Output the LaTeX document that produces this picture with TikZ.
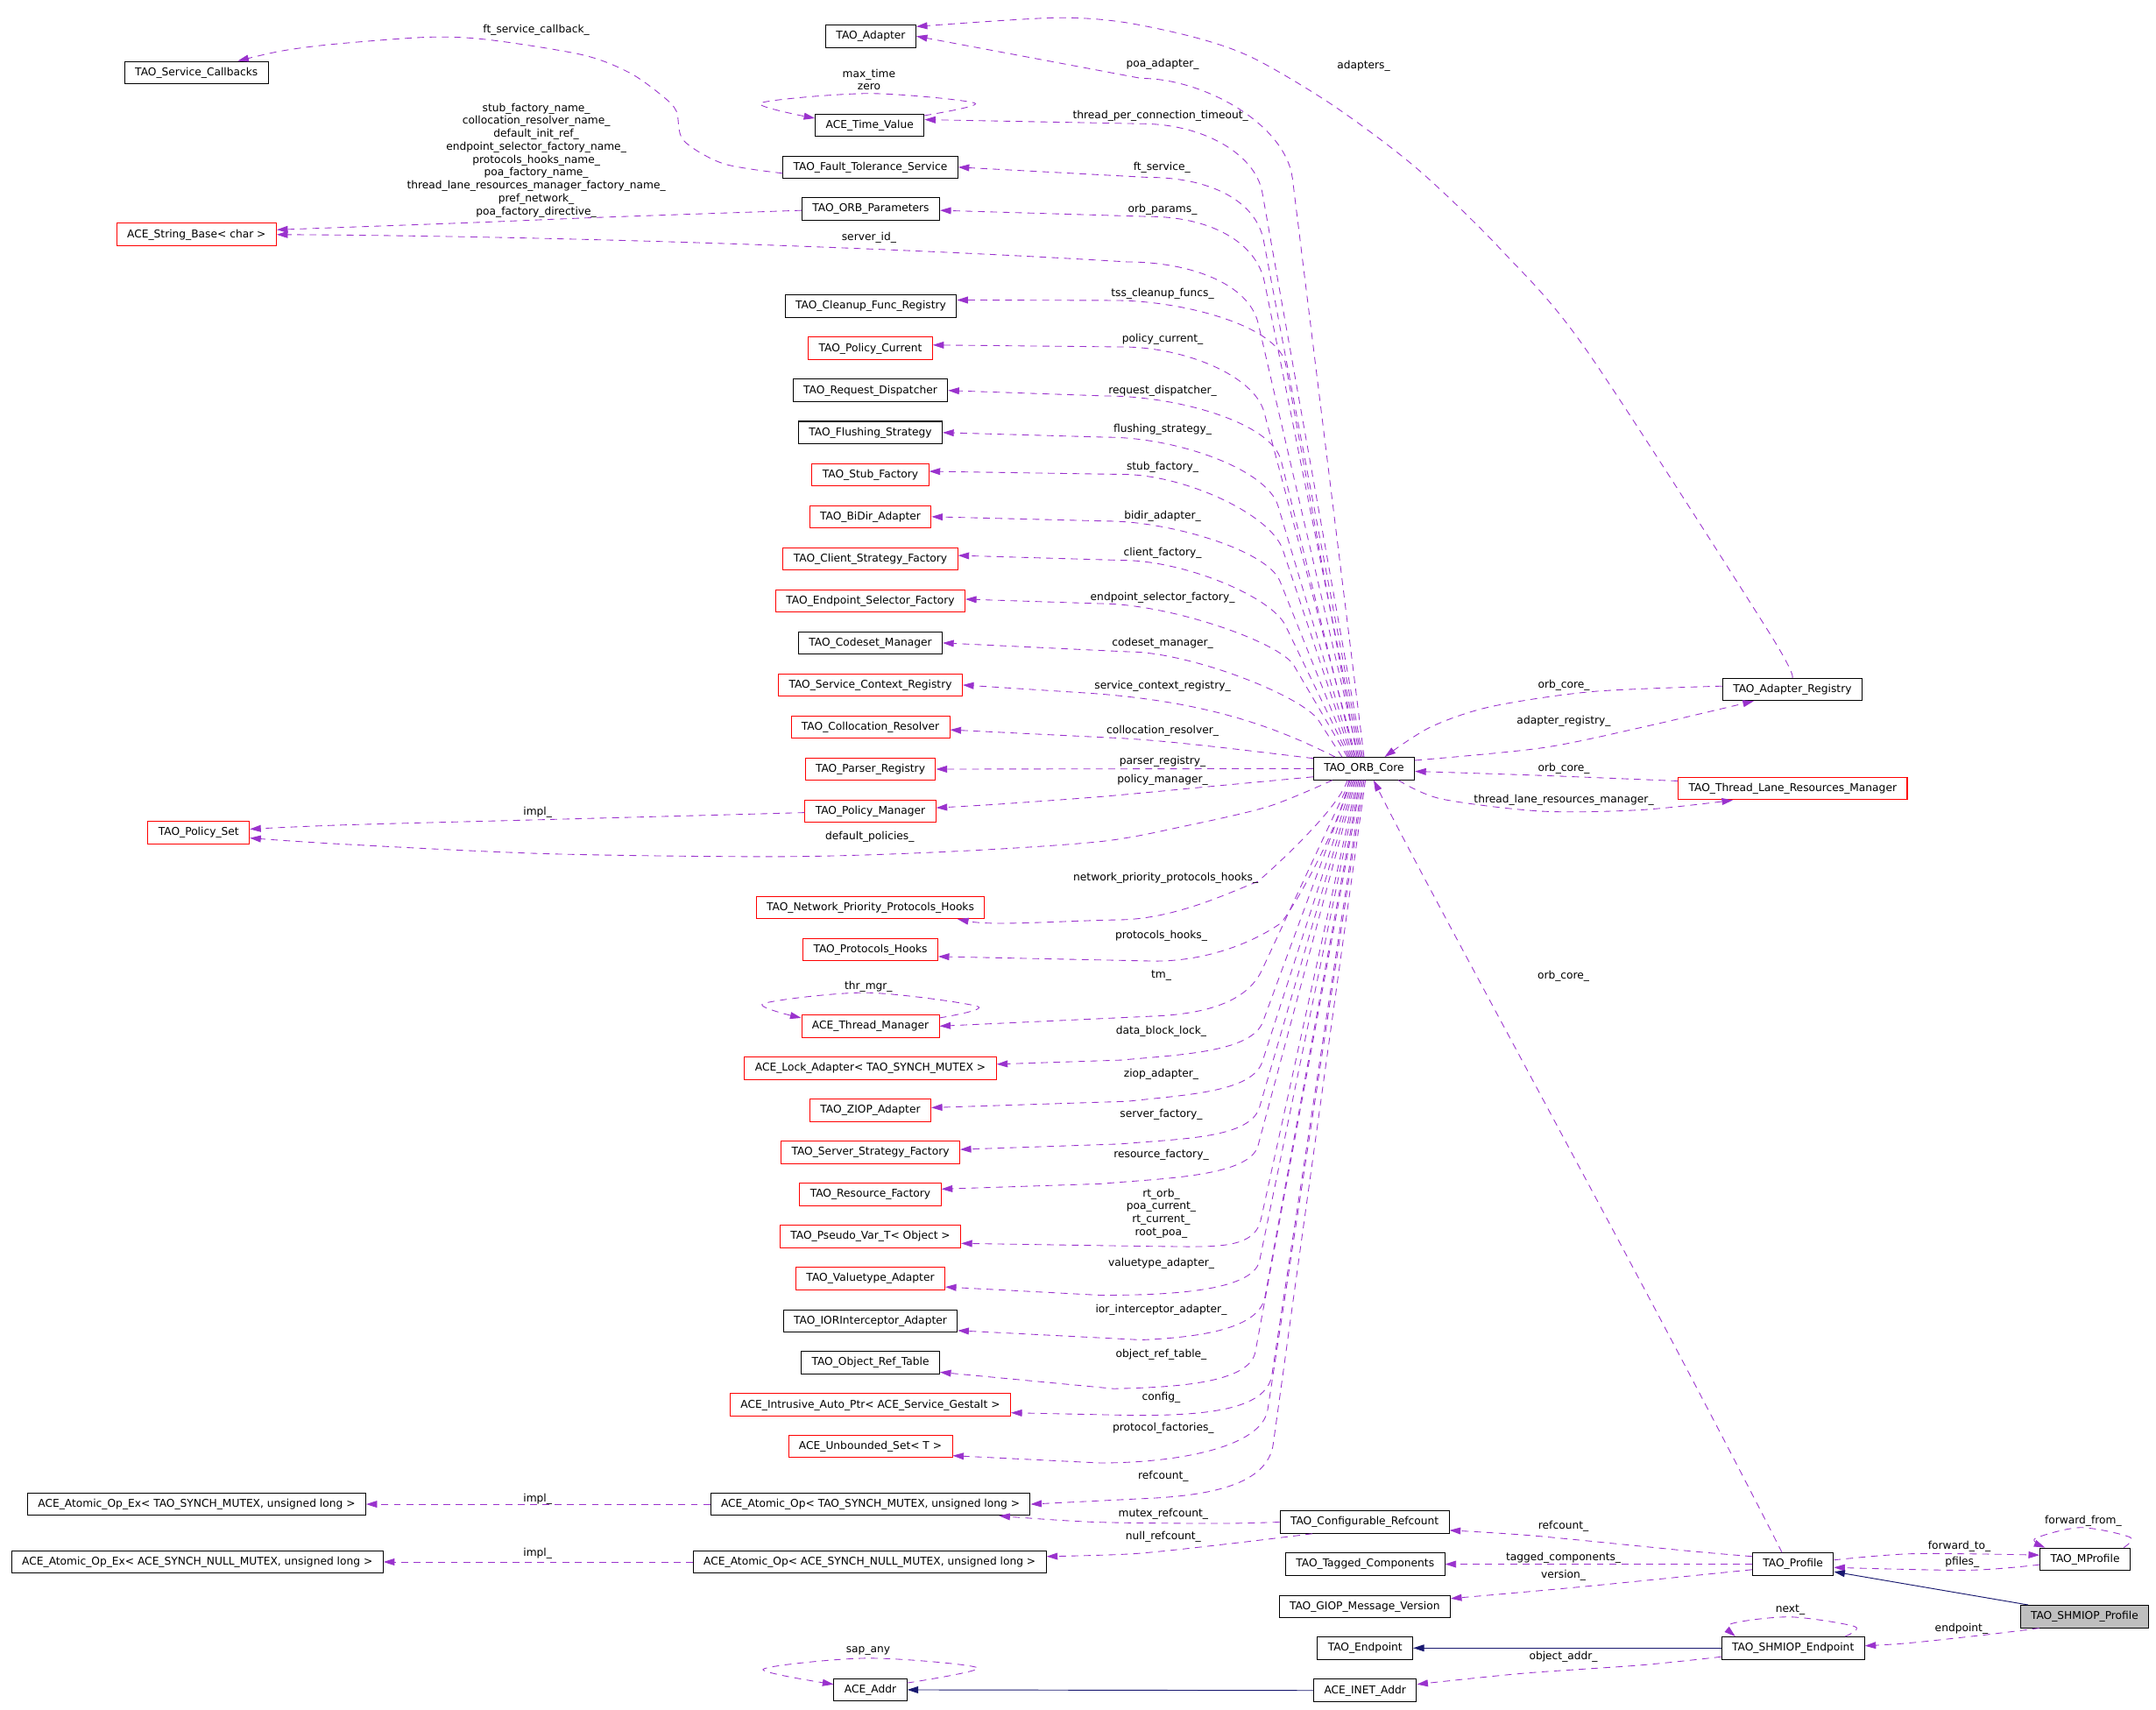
\documentclass[tikz,border=0pt]{standalone}
\usepackage{fontspec}
\setmainfont{DejaVu Sans}
\usetikzlibrary{arrows.meta,calc}
\definecolor{orchid}{HTML}{9A32CD}
\definecolor{navyb}{HTML}{191970}
\definecolor{greyf}{HTML}{BFBFBF}
\newcommand\lblfont{\fontsize{7.8pt}{9.4pt}\selectfont}
\newcommand\mline[1]{\draw[mem] plot[smooth] coordinates {#1};}
% fan connector: start, bend start, control at bend, control at flat end, flat end, target
\newcommand\fanline[6]{\draw[mem] (#1) -- (#2) .. controls +(#3) and +(#4) .. (#5) -- (#6);}
\begin{document}
\begin{tikzpicture}[x=1pt,y=-1pt,
  cls/.style={draw=black, line width=0.65pt, fill=white, font=\lblfont, minimum height=16.3pt, inner xsep=7.6pt, inner ysep=0pt, text height=6pt, text depth=1.8pt},
  redcls/.style={cls, draw=red},
  cur/.style={cls, fill=greyf},
  mem/.style={draw=orchid, line width=0.55pt, dash pattern=on 5pt off 4pt, -{Triangle[length=8pt,width=5pt,fill=orchid]}},
  inh/.style={draw=navyb, line width=0.6pt, -{Triangle[length=8pt,width=5pt,fill=navyb]}},
  lbl/.style={font=\lblfont, inner sep=0pt, align=center}]
\fill[white] (0,0) rectangle (1568,1243.1);
\useasboundingbox (0,0) rectangle (1568,1243.1);

% ---------- classes ----------
\node[cls] (SC) at (142.9,52.8) {TAO\_Service\_Callbacks};
\node[cls] (AD) at (633.3,26.3) {TAO\_Adapter};
\node[cls] (TV) at (632.5,91) {ACE\_Time\_Value};
\node[cls] (FT) at (633,121.6) {TAO\_Fault\_Tolerance\_Service};
\node[cls] (OP) at (633.3,152) {TAO\_ORB\_Parameters};
\node[redcls] (SB) at (142.9,170.6) {ACE\_String\_Base< char >};
\node[cls] (CFR) at (633.3,222.8) {TAO\_Cleanup\_Func\_Registry};
\node[redcls] (PC) at (633,253.4) {TAO\_Policy\_Current};
\node[cls] (RD) at (633,284) {TAO\_Request\_Dispatcher};
\node[cls] (FS) at (633,314.6) {TAO\_Flushing\_Strategy};
\node[redcls] (STF) at (633,345.2) {TAO\_Stub\_Factory};
\node[redcls] (BD) at (633,375.8) {TAO\_BiDir\_Adapter};
\node[redcls] (CSF) at (633,406.4) {TAO\_Client\_Strategy\_Factory};
\node[redcls] (ESF) at (633,437) {TAO\_Endpoint\_Selector\_Factory};
\node[cls] (CM) at (633,467.6) {TAO\_Codeset\_Manager};
\node[redcls] (SCR) at (633,498.2) {TAO\_Service\_Context\_Registry};
\node[redcls] (COL) at (633,528.8) {TAO\_Collocation\_Resolver};
\node[redcls] (PAR) at (633,559.4) {TAO\_Parser\_Registry};
\node[redcls] (PM) at (633,590) {TAO\_Policy\_Manager};
\node[redcls] (PS) at (144.5,605.5) {TAO\_Policy\_Set};
\node[redcls] (NPH) at (633,660) {TAO\_Network\_Priority\_Protocols\_Hooks};
\node[redcls] (PH) at (633,690.7) {TAO\_Protocols\_Hooks};
\node[redcls] (TM) at (633,746.3) {ACE\_Thread\_Manager};
\node[redcls] (LA) at (633,777) {ACE\_Lock\_Adapter< TAO\_SYNCH\_MUTEX >};
\node[redcls] (ZA) at (633,807.6) {TAO\_ZIOP\_Adapter};
\node[redcls] (SSF) at (633,838) {TAO\_Server\_Strategy\_Factory};
\node[redcls] (RF) at (633,868.8) {TAO\_Resource\_Factory};
\node[redcls] (PV) at (633,899.3) {TAO\_Pseudo\_Var\_T< Object >};
\node[redcls] (VA) at (633,930) {TAO\_Valuetype\_Adapter};
\node[cls] (IORA) at (633,960.7) {TAO\_IORInterceptor\_Adapter};
\node[cls] (ORT) at (633,991) {TAO\_Object\_Ref\_Table};
\node[redcls] (IAP) at (633,1021.8) {ACE\_Intrusive\_Auto\_Ptr< ACE\_Service\_Gestalt >};
\node[redcls] (US) at (633,1052) {ACE\_Unbounded\_Set< T >};
\node[cls] (AT) at (633,1094) {ACE\_Atomic\_Op< TAO\_SYNCH\_MUTEX, unsigned long >};
\node[cls] (AX) at (143,1094) {ACE\_Atomic\_Op\_Ex< TAO\_SYNCH\_MUTEX, unsigned long >};
\node[cls] (AN) at (632.5,1136) {ACE\_Atomic\_Op< ACE\_SYNCH\_NULL\_MUTEX, unsigned long >};
\node[cls] (ANX) at (143.5,1136) {ACE\_Atomic\_Op\_Ex< ACE\_SYNCH\_NULL\_MUTEX, unsigned long >};
\node[cls] (ORB) at (992,559) {TAO\_ORB\_Core};
\node[cls] (AR) at (1303.5,501.4) {TAO\_Adapter\_Registry};
\node[redcls] (TL) at (1303.8,573.5) {TAO\_Thread\_Lane\_Resources\_Manager};
\node[cls] (CR) at (992.4,1107) {TAO\_Configurable\_Refcount};
\node[cls] (TC) at (992.8,1137.6) {TAO\_Tagged\_Components};
\node[cls] (GMV) at (992.5,1168.6) {TAO\_GIOP\_Message\_Version};
\node[cls] (TE) at (992.8,1198.6) {TAO\_Endpoint};
\node[cls] (INET) at (992.8,1229.5) {ACE\_INET\_Addr};
\node[cls] (ADDR) at (633,1229) {ACE\_Addr};
\node[cls] (PR) at (1304,1137.6) {TAO\_Profile};
\node[cls] (MP) at (1516.4,1134) {TAO\_MProfile};
\node[cur] (SP) at (1516,1175.7) {TAO\_SHMIOP\_Profile};
\node[cls] (SE) at (1304,1198.6) {TAO\_SHMIOP\_Endpoint};

% ---------- connector end points ----------
\foreach \i in {0,...,21} {\coordinate (u\i) at ($(ORB.north)+(-\i,0)$);}
\foreach \i in {0,...,12} {\coordinate (d\i) at ($(ORB.south)+(-\i,0)$);}
\coordinate (dR) at ($(ORB.south)+(1,0)$);
\coordinate (tAD2) at ($(AD.east)+(0,-7)$);
\coordinate (tTV) at ($(TV.east)+(0,-4)$);
\coordinate (tOP) at ($(OP.east)+(0,1)$);
\coordinate (tCFR) at ($(CFR.east)+(0,-4.6)$);
\coordinate (tPC) at ($(PC.east)+(0,-2.5)$);
\coordinate (tSTF) at ($(STF.east)+(0,-2.4)$);
\coordinate (tCSF) at ($(CSF.east)+(0,-2.4)$);
\coordinate (tESF) at ($(ESF.east)+(0,-1.2)$);
\coordinate (sCOL) at ($(ORB.north west)+(0,1)$);
\coordinate (tCOL) at ($(COL.east)+(0,2)$);
\coordinate (sPM) at ($(ORB.west)+(0,6)$);
\coordinate (tPM) at ($(PM.east)+(0,-2.5)$);
\coordinate (sDP) at ($(ORB.south west)+(14,0)$);
\coordinate (tPSa) at ($(PS.east)+(0,4)$);
\coordinate (sPMi) at ($(PM.west)+(0,1)$);
\coordinate (tPSb) at ($(PS.east)+(0,-2.5)$);
\coordinate (tNPH) at ($(NPH.south east)+(-20,0)$);
\coordinate (tPH) at ($(PH.east)+(0,5)$);
\coordinate (tLA) at ($(LA.east)+(0,-3)$);
\coordinate (tZA) at ($(ZA.east)+(0,-2)$);
\coordinate (tSSF) at ($(SSF.east)+(0,-2)$);
\coordinate (tRF) at ($(RF.east)+(0,-4)$);
\coordinate (tPV) at ($(PV.east)+(0,5)$);
\coordinate (tVA) at ($(VA.east)+(0,6)$);
\coordinate (tIORA) at ($(IORA.east)+(0,7)$);
\coordinate (tORT) at ($(ORT.east)+(0,7)$);
\coordinate (tIAP) at ($(IAP.east)+(0,5.7)$);
\coordinate (tUS) at ($(US.east)+(0,6.7)$);
\coordinate (sTVl) at ($(TV.east)+(0,-7)$);
\coordinate (tTVl) at ($(TV.west)+(0,-5)$);
\coordinate (sTMl) at ($(TM.east)+(0,-6)$);
\coordinate (tTMl) at ($(TM.west)+(0,-6)$);
\coordinate (sADl) at ($(ADDR.east)+(0,-5)$);
\coordinate (tADl) at ($(ADDR.west)+(0,-4)$);
\coordinate (sFT) at ($(FT.west)+(0,4.4)$);
\coordinate (tSC) at ($(SC.north)+(30,0)$);
\coordinate (sOP) at ($(OP.west)+(0,1)$);
\coordinate (tSBb) at ($(SB.east)+(0,-3.5)$);
\coordinate (sARo) at ($(AR.west)+(0,-2.4)$);
\coordinate (tORBa) at ($(ORB.north)+(15,0)$);
\coordinate (sORBr) at ($(ORB.east)+(0,-6)$);
\coordinate (tAR) at ($(AR.south)+(-28,0)$);
\coordinate (sTL) at ($(TL.west)+(0,-5.5)$);
\coordinate (tORBr) at ($(ORB.east)+(0,2)$);
\coordinate (sORBt) at ($(ORB.south)+(25,0)$);
\coordinate (tTL) at ($(TL.south west)+(40,0)$);
\coordinate (sPRo) at ($(PR.north)+(-8,0)$);
\coordinate (tORBb) at ($(ORB.south)+(7,0)$);
\coordinate (sPRc) at ($(PR.west)+(0,-5.6)$);
\coordinate (tCR) at ($(CR.east)+(0,6)$);
\coordinate (sPRv) at ($(PR.west)+(0,4)$);
\coordinate (tGMV) at ($(GMV.east)+(0,-6)$);
\coordinate (sPRf) at ($(PR.east)+(0,-3)$);
\coordinate (tMP) at ($(MP.west)+(0,-3)$);
\coordinate (sMP) at ($(MP.west)+(0,4)$);
\coordinate (tPRp) at ($(PR.east)+(0,2.4)$);
\coordinate (sMPl) at ($(MP.north east)+(-5,0)$);
\coordinate (tMPl) at ($(MP.north west)+(4,0)$);
\coordinate (sSPi) at ($(SP.north west)+(6,0)$);
\coordinate (tPRi) at ($(PR.east)+(0,5.5)$);
\coordinate (sSPe) at ($(SP.south west)+(14,0)$);
\coordinate (tSE) at ($(SE.east)+(0,-1.6)$);
\coordinate (sSEl) at ($(SE.north)+(38,0)$);
\coordinate (tSEl) at ($(SE.north)+(-42,0)$);
\coordinate (sSEa) at ($(SE.west)+(0,6.4)$);
\coordinate (tINET) at ($(INET.east)+(0,-4.5)$);
\coordinate (tATm) at ($(AT.south east)+(-23,0)$);
\coordinate (sCRn) at ($(CR.south)+(-38,0)$);
\coordinate (tAN) at ($(AN.east)+(0,-4)$);

% ---------- TAO_ORB_Core members above ----------
\fanline{u0}{940,130}{-5,-40}{45,0}{830,57}{AD.east}
\fanline{u1}{918,140}{-5,-28}{45,0}{830,90}{tTV}
\fanline{u2}{919,175}{-5.5,-29}{45,0}{835,129}{FT.east}
\fanline{u3}{919.6,205}{-6,-29}{45,0}{835,157.5}{tOP}
\draw[mem] (u4) -- (915,235) .. controls +(-7,-29) and +(45,0) .. (820,190.5) .. controls (700,183) and (450,172) .. (SB.east);
\fanline{u5}{935,265}{-5,-28}{50,0}{810,218.5}{tCFR}
\fanline{u6}{919.4,300}{-7,-27}{45,0}{816,252.3}{tPC}
\fanline{u7}{931.7,335}{-7,-28}{50,0}{805,288}{RD.east}
\fanline{u8}{929.5,368}{-8,-27}{50,0}{805,318}{FS.east}
\fanline{u9}{933,400}{-8.5,-26}{45,0}{816,345}{tSTF}
\fanline{u10}{931,423}{-9,-23}{45,0}{805,379}{BD.east}
\fanline{u11}{934.9,455}{-10,-21}{45,0}{816,407.5}{tCSF}
\fanline{u12}{941,484}{-10,-17}{50,0}{800,439}{tESF}
\fanline{u16}{959,524}{-12,-18}{45,0}{820,474}{CM.east}
\draw[mem] (u21) .. controls (930,530) and (880,510) .. (790,504) -- (SCR.east);
\draw[mem] (sCOL) .. controls (900,545) and (845,538) .. (806.7,536.5) -- (tCOL);
\draw[mem] (ORB.west) -- (PAR.east);
\mline{(sPM) (877,572.3) (800.7,579.4) (724.4,585) (tPM)}
\mline{(sDP) (922.6,586.5) (861.7,600.8) (800.7,612) (693.9,619.2) (572,623) (400,621) (250,614) (tPSa)}
\mline{(sPMi) (541.6,592.2) (400,596) (250,600) (tPSb)}

% ---------- TAO_ORB_Core members below ----------
\draw[mem] (d12) .. controls +(-6,18) and +(25,-22) .. (915,641) .. controls +(-25,10) and +(40,0) .. (812,669) .. controls +(-45,1) and +(25,5) .. (tNPH);
\draw[mem] (d11) .. controls +(-4,25) and +(18,-25) .. (932,671) .. controls +(-18,13) and +(40,0) .. (840,699) -- (tPH);
\fanline{d10}{918,705}{-9,20}{45,-2}{840,739}{TM.east}
\fanline{d9}{918.5,743}{-8,22}{45,-4}{815,771}{tLA}
\fanline{d8}{918.1,772}{-7,22}{45,-5}{820,801}{tZA}
\fanline{d7}{916.1,805}{-6.5,23}{45,-4}{815,832}{tSSF}
\fanline{d6}{915,833}{-6,23}{45,-4}{800,861}{tRF}
\fanline{d5}{917,887}{-5,23}{40,0}{840,906.5}{tPV}
\fanline{d4}{916,917}{-5,23}{45,0}{800,942}{tVA}
\fanline{d3}{920,943}{-4,23}{45,-2}{830,974.5}{tIORA}
\fanline{d2}{913,983}{-4,23}{45,-1}{810,1010}{tORT}
\fanline{d1}{925,1000}{-4,26}{50,0}{825,1029.4}{tIAP}
\fanline{d0}{922,1025}{-4,28}{55,0}{800,1064}{tUS}
\fanline{dR}{926,1050}{-4,30}{50,-2}{830,1090}{AT.east}

% ---------- other members ----------
\mline{(AR.north) (1286,459) (1154,255) (1093,183) (1031,123) (970,77) (913,43) (872,28) (816,16) (765,13) (tAD2)}
\mline{(sTVl) (709,75) (632,68) (553,75) (tTVl)}
\mline{(sTMl) (711,732) (630,722) (555,730) (tTMl)}
\mline{(sADl) (711,1213) (631,1206) (555,1214) (tADl)}
\mline{(sFT) (526,119) (497,102) (492,81) (482,70) (458,53) (424,40) (356,29) (312,27) (244,32) (205,37) (tSC)}
\mline{(sOP) (439,158) (341,162) (tSBb)}
\mline{(sARo) (1158,503) (1084,514) (1040,529) (tORBa)}
\mline{(sORBr) (1121,544) (1194,529) (tAR)}
\mline{(sTL) (1121,564) (tORBr)}
\mline{(sORBt) (1048,581) (1121,590) (1194,589) (tTL)}
\draw[mem] (sPRo) .. controls (1200,940) and (1040,650) .. (tORBb);
\mline{(sPRc) (1228,1128) (1116,1117) (tCR)}
\draw[mem] (PR.west) -- (TC.east);
\mline{(sPRv) (1151,1154) (tGMV)}
\mline{(sPRf) (1392,1130) (tMP)}
\mline{(sMP) (1431,1142) (tPRp)}
\mline{(sMPl) (1549,1118) (1513,1111) (1480,1119) (tMPl)}
\mline{(sSPe) (1444,1189) (1388,1195) (tSE)}
\mline{(sSEl) (1349,1183) (1302,1176) (1259,1181) (tSEl)}
\mline{(sSEa) (1194,1211) (1108,1217) (tINET)}
\mline{(CR.west) (887,1108) (796,1107) (tATm)}
\mline{(sCRn) (892,1123) (825,1130) (tAN)}
\draw[mem] (AT.west) -- (AX.east);
\draw[mem] (AN.west) -- (ANX.east);

% ---------- inheritance ----------
\draw[inh] (sSPi) -- (tPRi);
\draw[inh] (SE.west) -- (TE.east);
\draw[inh] (INET.west) -- (ADDR.east);

% ---------- labels ----------
\node[lbl] (L1) at (390,22) {ft\_service\_callback\_};
\node[lbl] (L2) at (390,116.5) {stub\_factory\_name\_\\collocation\_resolver\_name\_\\default\_init\_ref\_\\endpoint\_selector\_factory\_name\_\\protocols\_hooks\_name\_\\poa\_factory\_name\_\\thread\_lane\_resources\_manager\_factory\_name\_\\pref\_network\_\\poa\_factory\_directive\_};
\node[lbl] (L3) at (632,58) {max\_time\\zero};
\node[lbl] (L4) at (632,173) {server\_id\_};
\node[lbl] (L5) at (845.5,47) {poa\_adapter\_};
\node[lbl] (L6) at (991.7,47.8) {adapters\_};
\node[lbl] (L7) at (844,84.3) {thread\_per\_connection\_timeout\_};
\node[lbl] (L8) at (845,122) {ft\_service\_};
\node[lbl] (L9) at (845.5,152.3) {orb\_params\_};
\node[lbl] (L10) at (845.5,213.4) {tss\_cleanup\_funcs\_};
\node[lbl] (L11) at (845.5,247) {policy\_current\_};
\node[lbl] (L12) at (845.5,284.5) {request\_dispatcher\_};
\node[lbl] (L13) at (845.5,312.6) {flushing\_strategy\_};
\node[lbl] (L14) at (845.5,340) {stub\_factory\_};
\node[lbl] (L15) at (845.5,375.5) {bidir\_adapter\_};
\node[lbl] (L16) at (845.5,402) {client\_factory\_};
\node[lbl] (L17) at (845.5,435) {endpoint\_selector\_factory\_};
\node[lbl] (L18) at (845.5,468) {codeset\_manager\_};
\node[lbl] (L19) at (845.5,499) {service\_context\_registry\_};
\node[lbl] (L20) at (845.5,531.6) {collocation\_resolver\_};
\node[lbl] (L21) at (845.5,554) {parser\_registry\_};
\node[lbl] (L22) at (845.5,567) {policy\_manager\_};
\node[lbl] (L23) at (391,591) {impl\_};
\node[lbl] (L24) at (632.5,608.6) {default\_policies\_};
\node[lbl] (L25) at (847.8,638.4) {network\_priority\_protocols\_hooks\_};
\node[lbl] (L26) at (844.5,680.4) {protocols\_hooks\_};
\node[lbl] (L27) at (844.5,709.7) {tm\_};
\node[lbl] (L28) at (631.6,717.7) {thr\_mgr\_};
\node[lbl] (L29) at (844.5,750.4) {data\_block\_lock\_};
\node[lbl] (L30) at (844.5,781) {ziop\_adapter\_};
\node[lbl] (L31) at (844.5,810.4) {server\_factory\_};
\node[lbl] (L32) at (844.5,839.8) {resource\_factory\_};
\node[lbl] (L33) at (844.5,882.5) {rt\_orb\_\\poa\_current\_\\rt\_current\_\\root\_poa\_};
\node[lbl] (L34) at (844.5,919) {valuetype\_adapter\_};
\node[lbl] (L35) at (844.5,952.8) {ior\_interceptor\_adapter\_};
\node[lbl] (L36) at (844.5,985) {object\_ref\_table\_};
\node[lbl] (L37) at (844.5,1016.2) {config\_};
\node[lbl] (L38) at (846,1039) {protocol\_factories\_};
\node[lbl] (L39) at (846,1074) {refcount\_};
\node[lbl] (L40) at (846,1101) {mutex\_refcount\_};
\node[lbl] (L41) at (846,1118) {null\_refcount\_};
\node[lbl] (L42) at (391,1090) {impl\_};
\node[lbl] (L43) at (391,1130) {impl\_};
\node[lbl] (L44) at (631.4,1200.4) {sap\_any};
\node[lbl] (L45) at (1137.3,498.7) {orb\_core\_};
\node[lbl] (L46) at (1137.3,524.6) {adapter\_registry\_};
\node[lbl] (L47) at (1137.3,559.2) {orb\_core\_};
\node[lbl] (L48) at (1137.3,582) {thread\_lane\_resources\_manager\_};
\node[lbl] (L49) at (1137,710) {orb\_core\_};
\node[lbl] (L50) at (1137,1110) {refcount\_};
\node[lbl] (L51) at (1137,1133) {tagged\_components\_};
\node[lbl] (L52) at (1137,1146) {version\_};
\node[lbl] (L53) at (1425,1125) {forward\_to\_};
\node[lbl] (L54) at (1427,1136) {pfiles\_};
\node[lbl] (L55) at (1515,1106) {forward\_from\_};
\node[lbl] (L56) at (1302,1171) {next\_};
\node[lbl] (L57) at (1426.5,1184.5) {endpoint\_};
\node[lbl] (L58) at (1137,1205.3) {object\_addr\_};
\end{tikzpicture}
\end{document}
